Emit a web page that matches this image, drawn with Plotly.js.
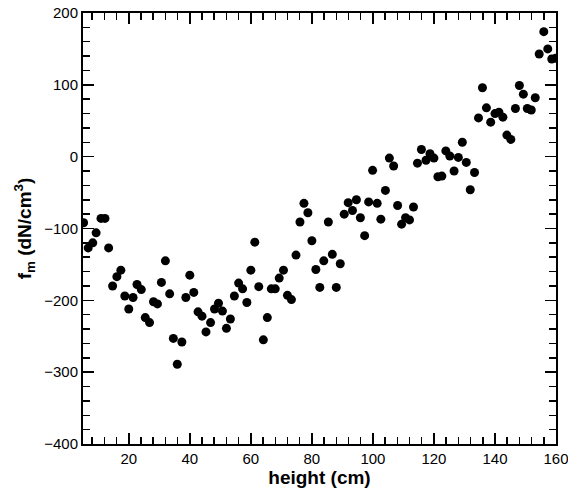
<!DOCTYPE html>
<html>
<head>
<meta charset="utf-8">
<script src="https://cdn.plot.ly/plotly-3.0.1.min.js"></script>
<style>html,body{margin:0;padding:0;background:#fff;overflow:hidden;}#chart{width:568px;height:492px;}</style>
</head>
<body>
<div id="chart"></div>
<script>
const heightCm = [5.2, 6.7, 8.2, 9.3, 10.9, 12.2, 13.4, 14.7, 16.1, 17.4, 18.7, 20.0, 21.4, 22.7, 24.1, 25.4, 26.8, 28.1, 29.4, 30.7,
  32.0, 33.4, 34.6, 35.9, 37.4, 38.7, 40.0, 41.3, 42.7, 44.0, 45.3, 46.8, 48.1, 49.4, 50.7, 52.0, 53.3, 54.6, 56.0, 57.3,
  58.7, 60.0, 61.3, 62.6, 64.1, 65.4, 66.7, 68.0, 69.3, 70.7, 72.0, 73.3, 74.8, 76.1, 77.4, 78.7, 80.0, 81.3, 82.6, 83.9,
  85.4, 86.7, 88.0, 89.3, 90.6, 91.9, 93.3, 94.6, 95.9, 97.3, 98.6, 99.9, 101.4, 102.6, 104.1, 105.4, 106.8, 108.1, 109.4, 110.7,
  112.0, 113.3, 114.6, 115.9, 117.4, 118.7, 120.0, 121.3, 122.6, 123.9, 125.2, 126.6, 128.0, 129.3, 130.6, 131.9, 133.3, 134.6, 135.9, 137.2,
  138.6, 140.0, 141.3, 142.6, 143.9, 145.2, 146.7, 148.0, 149.3, 150.6, 151.9, 153.2, 154.5, 156.0, 157.3, 158.6, 159.9];
const fm = [-92, -127, -120, -106, -86, -86, -127, -180, -167, -158, -194, -212, -196, -178, -185, -224, -231, -202, -205, -175,
  -145, -191, -253, -289, -258, -196, -165, -189, -216, -222, -244, -231, -212, -204, -215, -239, -226, -194, -176, -184,
  -203, -158, -119, -181, -255, -224, -184, -184, -169, -158, -193, -199, -137, -91, -65, -78, -117, -157, -182, -145,
  -91, -136, -182, -149, -80, -64, -75, -60, -85, -110, -63, -19, -65, -87, -47, -2, -13, -68, -94, -85,
  -88, -70, -9, 10, -5, 4, -2, -28, -27, 8, 1, -20, -1, 20, -8, -46, -22, 54, 96, 68,
  48, 60, 62, 55, 30, 24, 67, 99, 87, 67, 65, 82, 143, 174, 150, 136, 137];
const xTickVals = [20, 40, 60, 80, 100, 120, 140, 160];
const yTickVals = [-400, -300, -200, -100, 0, 100, 200];

const fontFam = 'Liberation Sans, Arial, Helvetica, sans-serif';
const axisCommon = {
  showline: true, linecolor: '#000', linewidth: 2, mirror: 'ticks',
  ticks: 'inside', ticklen: 11, tickwidth: 1.5, tickcolor: '#000',
  showgrid: false, zeroline: false, ticklabeloverflow: 'allow',
  tickfont: {family: fontFam, size: 15, color: '#000'}
};
Plotly.newPlot('chart', [{
  x: heightCm, y: fm, type: 'scatter', mode: 'markers',
  marker: {color: '#000', size: 9}
}], {
  width: 568, height: 492,
  margin: {l: 83, r: 12, t: 13, b: 48},
  paper_bgcolor: '#fff', plot_bgcolor: '#fff',
  showlegend: false,
  xaxis: Object.assign({}, axisCommon, {
    range: [5, 160], tickmode: 'array', tickvals: xTickVals,
    minor: {dtick: 4, tick0: 0, ticks: 'inside', ticklen: 7, tickwidth: 1.5, tickcolor: '#000'},
    title: {text: '<b>height (cm)</b>', font: {family: fontFam, size: 19, color: '#000'}, standoff: 4}
  }),
  yaxis: Object.assign({}, axisCommon, {
    range: [-400, 200], tickmode: 'array', tickvals: yTickVals,
    minor: {dtick: 20, tick0: 0, ticks: 'inside', ticklen: 7, tickwidth: 1.5, tickcolor: '#000'},
    title: {text: '<b>f<sub>m</sub> (dN/cm<sup>3</sup>)</b>', font: {family: fontFam, size: 19, color: '#000'}, standoff: 8}
  })
}, {staticPlot: true});
</script>
</body>
</html>
